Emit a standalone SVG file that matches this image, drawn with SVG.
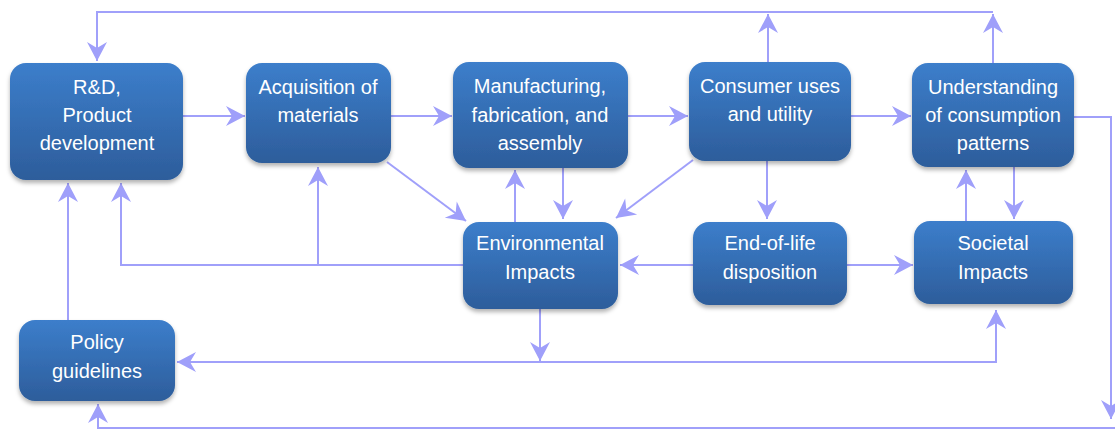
<svg xmlns="http://www.w3.org/2000/svg" width="1115" height="430" viewBox="0 0 1115 430">
<defs>
<linearGradient id="g" x1="0" y1="0" x2="0" y2="1">
<stop offset="0" stop-color="#3c7ecb"/>
<stop offset="1" stop-color="#2d5d9b"/>
</linearGradient>
<filter id="sh" x="-10%" y="-10%" width="120%" height="130%">
<feDropShadow dx="0" dy="3" stdDeviation="2" flood-color="#000" flood-opacity="0.3"/>
</filter>
<marker id="ah" viewBox="-20 -11 22 22" markerWidth="22" markerHeight="22" refX="0" refY="0" orient="auto-start-reverse" markerUnits="userSpaceOnUse">
<path d="M0,0 L-19,-10 L-13,0 L-19,10 Z" fill="#9f9ffa"/>
</marker>
</defs>
<style>
.n rect{fill:url(#g);filter:url(#sh)}
.n text{fill:#fff;font-family:"Liberation Sans",Arial,sans-serif;font-size:20px;text-anchor:middle}
.c path{fill:none;stroke:#a0a0fa;stroke-width:2}
.e{marker-end:url(#ah)}
</style>
<rect width="1115" height="430" fill="#fff"/>
<g class="c">
<path class="e" d="M993,63 V14"/>
<path class="e" d="M768,62 V14"/>
<path class="e" d="M993,12 H97 V61"/>
<path class="e" d="M183,116 H245"/>
<path class="e" d="M391,116 H452"/>
<path class="e" d="M628,116 H688"/>
<path class="e" d="M851,116 H911"/>
<path class="e" d="M1074,117 H1111 V419"/>
<path class="e" d="M1115,428 H98 V404"/>
<path class="e" d="M387,162 L466,221"/>
<path class="e" d="M515,222 V170"/>
<path class="e" d="M563,168 V219"/>
<path class="e" d="M693,160 L616,218"/>
<path class="e" d="M767,161 V219"/>
<path class="e" d="M693,265 H620"/>
<path class="e" d="M847,265 H913"/>
<path class="e" d="M966,221 V170"/>
<path class="e" d="M1014,167 V219"/>
<path class="e" d="M463,265 H121 V183"/>
<path class="e" d="M318,265 V167"/>
<path class="e" d="M68,320 V183"/>
<path class="e" d="M540,309 V361"/>
<path class="e" d="M177,362 H996 V310" marker-start="url(#ah)"/>
</g>
<g id="rd" class="n"><rect x="10" y="63" width="173" height="117" rx="16"/>
<text x="97" y="94">R&amp;D,</text><text x="97" y="122">Product</text><text x="97" y="150">development</text></g>
<g id="acq" class="n"><rect x="246" y="63" width="145" height="100" rx="16"/>
<text x="318" y="94">Acquisition of</text><text x="318" y="122">materials</text></g>
<g id="man" class="n"><rect x="453" y="62" width="175" height="106" rx="16"/>
<text x="540" y="93">Manufacturing,</text><text x="540" y="122">fabrication, and</text><text x="540" y="150">assembly</text></g>
<g id="con" class="n"><rect x="689" y="62" width="162" height="99" rx="16"/>
<text x="770" y="93">Consumer uses</text><text x="770" y="121">and utility</text></g>
<g id="und" class="n"><rect x="912" y="63" width="162" height="104" rx="16"/>
<text x="993" y="94">Understanding</text><text x="993" y="122">of consumption</text><text x="993" y="150">patterns</text></g>
<g id="env" class="n"><rect x="463" y="222" width="155" height="87" rx="16"/>
<text x="540" y="250">Environmental</text><text x="540" y="279">Impacts</text></g>
<g id="eol" class="n"><rect x="693" y="222" width="154" height="83" rx="16"/>
<text x="770" y="250">End-of-life</text><text x="770" y="279">disposition</text></g>
<g id="soc" class="n"><rect x="914" y="221" width="159" height="83" rx="16"/>
<text x="993" y="250">Societal</text><text x="993" y="279">Impacts</text></g>
<g id="pol" class="n"><rect x="19" y="320" width="156" height="81" rx="16"/>
<text x="97" y="349">Policy</text><text x="97" y="378">guidelines</text></g>
</svg>
